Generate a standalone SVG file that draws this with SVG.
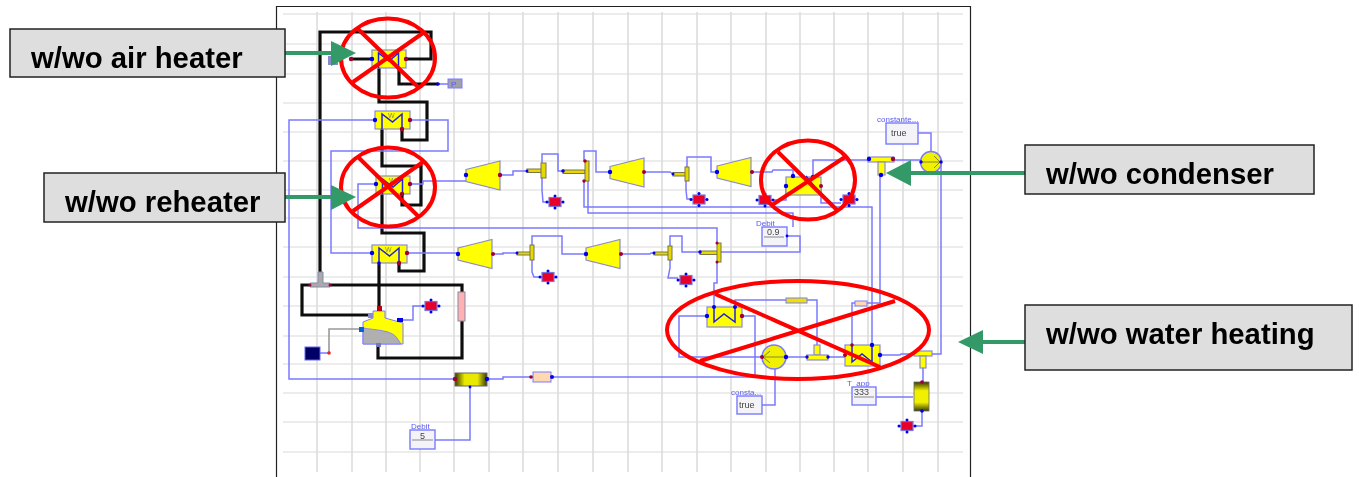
<svg xmlns="http://www.w3.org/2000/svg" width="1359" height="477" viewBox="0 0 1359 477">
<style>
.gh{stroke:#e6e6e6;stroke-width:1.6;fill:none}
.gv{stroke:#dcdcdc;stroke-width:1.6;fill:none}
.bl{stroke:#7a7aff;stroke-width:1.5;fill:none;stroke-linejoin:miter}
.bk{stroke:#111;stroke-width:3.2;fill:none;stroke-linejoin:miter}
.gy{stroke:#999;stroke-width:1.6;fill:none}
.y{fill:#ffff00;stroke:#8a8ad0;stroke-width:1.2}
.yd{fill:#e8d800;stroke:#77774a;stroke-width:1}
.w{stroke:#2222dd;stroke-width:1.5;fill:none}
.pb{fill:#0000ee}
.pr{fill:#a00030}
.act{fill:#e8002a;stroke:#7777dd;stroke-width:1.2}
.box{fill:#f4f4f8;stroke:#7a7aff;stroke-width:1.4}
.lbl{font:8px "Liberation Sans",Arial,sans-serif;fill:#5a5aee}
.val{font:9px "Liberation Sans",Arial,sans-serif;fill:#444}
.wt{font:7px "Liberation Sans",Arial,sans-serif;fill:#888860}
.cross{stroke:#ff0000;stroke-width:4;fill:none}
.arr{stroke:#339966;stroke-width:4;fill:none}
.arh{fill:#339966}
.tag{fill:#dedede;stroke:#222;stroke-width:1.5}
.tagt{font:bold 29.300px "Liberation Sans",Arial,sans-serif;fill:#000}
</style>
<defs>
<filter id="soft" x="0" y="0" width="100%" height="100%"><feGaussianBlur stdDeviation="0.5"/></filter>
<g id="a"><path class="bl" d="M-9 0H9M0-7V7"/><rect class="act" x="-6" y="-4.500" width="12" height="9"/><circle class="pb" cx="-8" cy="0" r="1.500"/><circle class="pb" cx="8" cy="0" r="1.500"/><circle class="pb" cx="0" cy="-6" r="1.500"/><circle class="pb" cx="0" cy="6" r="1.500"/></g>
<polygon id="t" class="y" points="0,-6 34,-14.500 34,14.500 0,6"/>
<path id="wv" class="w" d="M-10.500 9V-6L0 2 9.500-6V9"/>
<linearGradient id="gh"><stop offset="0" stop-color="#3a3a00"/><stop offset=".3" stop-color="#e8e800"/><stop offset=".7" stop-color="#e8e800"/><stop offset="1" stop-color="#3a3a00"/></linearGradient>
<linearGradient id="gv" x2="0" y2="1"><stop offset="0" stop-color="#3a3a00"/><stop offset=".3" stop-color="#f0f000"/><stop offset=".7" stop-color="#f0f000"/><stop offset="1" stop-color="#3a3a00"/></linearGradient>
</defs>
<rect width="1359" height="477" fill="#fff"/>
<g filter="url(#soft)">
<g id="grid">
<path class="gh" d="M283 14H963M283 44H963M283 74H963M283 103H963M283 132H963M283 161H963M283 190H963M283 218H963M283 247H963M283 277H963M283 306H963M283 336H963M283 364H963M283 393H963M283 422H963M283 452H963"/>
<path class="gv" d="M317 12V472M352 12V472M386 12V472M420 12V472M454 12V472M489 12V472M523 12V472M558 12V472M593 12V472M628 12V472M662 12V472M697 12V472M731 12V472M766 12V472M800 12V472M834 12V472M868 12V472M903 12V472M938 12V472"/>
</g>
<g id="connectors">
<path class="bk" d="M406 59H431V32H320V272"/>
<path class="bk" d="M351 59H372M399 68V84H438"/>
<path class="bk" d="M379 68V102H427V140H402V129"/>
<path class="bk" d="M382 129V166H421V205H402V194"/>
<path class="bk" d="M382 194V233H424V271H399V263"/>
<path class="bk" d="M379 263V308"/>
<path class="bk" d="M330 285H462V292M462 321V358H378V345"/>
<path class="bk" d="M310 285H302V315H370"/>
<path class="gy" d="M361 329H329V352"/>
<path class="bl" d="M438 84H448"/>
<path class="bl" d="M375 120H289V379H455"/>
<path class="bl" d="M410 120H448V151H331V253H372"/>
<path class="bl" d="M407 253H457"/>
<path class="bl" d="M410 184H423V181H466"/>
<path class="bl" d="M376 184H358V228H717V243"/>
<path class="bl" d="M500 175H513V171H527"/>
<path class="bl" d="M542 163V154H558V171H563"/>
<path class="bl" d="M542 178V190L543 202H547"/>
<path class="bl" d="M585 161H584V151H596V172H610"/>
<path class="bl" d="M584 181V207H872V345"/>
<path class="bl" d="M588 181V213H793V227"/>
<path class="bl" d="M787 236H800V252H720"/>
<path class="bl" d="M644 172H670L673 174"/>
<path class="bl" d="M687 167V157H711V172H717"/>
<path class="bl" d="M686 181V190L687 199H691"/>
<path class="bl" d="M752 172H772L773 170H793V177"/>
<path class="bl" d="M813 177V160H868"/>
<path class="bl" d="M821 186V203H841"/>
<path class="bl" d="M773 200H786V186"/>
<path class="bl" d="M893 160H920"/>
<path class="bl" d="M918 133H931V151"/>
<path class="bl" d="M941 162V354H932"/>
<path class="bl" d="M880 175V303H867"/>
<path class="bl" d="M855 303H852V345"/>
<path class="bl" d="M493 254H503V253H517"/>
<path class="bl" d="M532 245V236H562V254H586"/>
<path class="bl" d="M532 260V272L534 277H540"/>
<path class="bl" d="M621 254H650L651 253H654"/>
<path class="bl" d="M670 246V236H682V252H700"/>
<path class="bl" d="M670 260V268L668 278H678"/>
<path class="bl" d="M717 262V283H714V307"/>
<path class="bl" d="M707 316H679V357H762"/>
<path class="bl" d="M742 316H755V377H551"/>
<path class="bl" d="M735 307V300H786"/>
<path class="bl" d="M807 300H817V345"/>
<path class="bl" d="M786 357H807"/>
<path class="bl" d="M828 357H846"/>
<path class="bl" d="M762 405H775V369"/>
<path class="bl" d="M880 355H900L901 354H914"/>
<path class="bl" d="M876 397H913"/>
<path class="bl" d="M923 368V382M922 411V426H915"/>
<path class="bl" d="M487 379H503V377H533"/>
<path class="bl" d="M435 440H470V386"/>
<path class="bl" d="M400 320H413V306H423"/>
<path class="bl" d="M320 353H330"/>
</g>
<g id="air-heater"><rect class="y" x="372" y="50" width="34" height="18"/><use href="#wv" x="389" y="59"/><circle class="pb" cx="372" cy="59" r="2.200"/><circle class="pr" cx="406" cy="59" r="2.200"/><circle class="pr" cx="351" cy="59" r="2.200"/><rect x="328" y="56" width="10" height="9" fill="#8888cc"/></g>
<g id="sensor-p"><circle class="pb" cx="438" cy="84" r="1.800"/><rect x="448" y="79" width="14" height="9" fill="#a0a0a8" stroke="#7a7aff"/><text class="lbl" x="451" y="87">P</text></g>
<g id="heater-2"><rect class="y" x="375" y="111" width="35" height="18"/><text class="wt" x="388" y="118">W</text><use href="#wv" x="392.500" y="120"/><circle class="pb" cx="375" cy="120" r="2.200"/><circle class="pr" cx="410" cy="120" r="2.200"/><circle class="pr" cx="402" cy="129" r="2.200"/></g>
<g id="reheater"><rect class="y" x="376" y="176" width="34" height="18"/><text class="wt" x="389" y="183">W</text><use href="#wv" x="393" y="185"/><circle class="pb" cx="376" cy="184" r="2.200"/><circle class="pr" cx="410" cy="184" r="2.200"/><circle class="pr" cx="402" cy="194" r="2.200"/></g>
<g id="heater-4"><rect class="y" x="372" y="245" width="35" height="18"/><text class="wt" x="385" y="252">W</text><use href="#wv" x="389.500" y="254"/><circle class="pb" cx="372" cy="253" r="2.200"/><circle class="pr" cx="407" cy="253" r="2.200"/><circle class="pr" cx="399" cy="263" r="2.200"/><circle class="pb" cx="379" cy="263" r="1.800"/></g>
<g id="tee-gray"><path d="M318 272H323V283H330V287H310V283H318Z" fill="#aaa" stroke="#8888aa"/><circle class="pr" cx="310" cy="285" r="1.500"/><circle class="pr" cx="330" cy="285" r="1.500"/></g>
<g id="pink-pipe"><rect x="458" y="292" width="7" height="29" fill="#ffb0b0" stroke="#8888aa"/></g>
<g id="boiler">
<path d="M363 322L373 318V311H385V318L403 323V344H363Z" fill="#ffff00" stroke="#7a7aff"/>
<path d="M363 328C375 330 392 330 397 338L401 344H363Z" fill="#b0b0b0" stroke="#7a7aff" stroke-width=".8"/>
<rect x="377" y="306" width="5" height="5" fill="#c00010"/><rect x="368" y="313" width="5" height="5" fill="#8888cc"/><rect x="397" y="318" width="6" height="4" fill="#0000ee"/><rect x="359" y="327" width="5" height="5" fill="#0066cc"/><rect x="376" y="343" width="5" height="4" fill="#7777bb"/>
</g>
<g id="source"><rect x="305" y="347" width="15" height="13" fill="#000066" stroke="#6666ee"/><circle cx="329" cy="353" r="1.800" fill="#ee2222"/></g>
<use id="act-boiler" href="#a" x="431" y="306"/>
<use id="turbine-1" href="#t" x="466" y="175.500"/><circle class="pb" cx="466" cy="175" r="2.200"/><circle class="pr" cx="500" cy="175" r="2.200"/>
<g id="tee-1"><rect class="yd" x="527" y="169" width="15" height="3.500"/><rect class="yd" x="541" y="163" width="5" height="15"/><circle class="pb" cx="527" cy="171" r="1.500"/></g>
<use id="act-1" href="#a" x="555" y="202"/>
<g id="tee-2"><rect class="yd" x="563" y="170" width="22" height="3.500"/><rect class="yd" x="585" y="161" width="4" height="20"/><circle class="pb" cx="563" cy="171" r="1.800"/><circle class="pr" cx="585" cy="161" r="1.700"/><circle class="pr" cx="584" cy="181" r="1.700"/></g>
<use id="turbine-2" href="#t" x="610" y="172.500"/><circle class="pb" cx="610" cy="172" r="2.200"/><circle class="pr" cx="644" cy="172" r="2"/>
<g id="tee-3"><rect class="yd" x="673" y="172.500" width="13" height="3.500"/><rect class="yd" x="685" y="167" width="4" height="14"/><circle class="pb" cx="673" cy="174" r="1.500"/></g>
<use id="act-2" href="#a" x="699" y="199.500"/>
<use id="turbine-3" href="#t" x="717" y="172"/><circle class="pb" cx="717" cy="172" r="2.200"/><circle class="pr" cx="752" cy="172" r="2"/>
<g id="condenser"><rect class="y" x="786" y="177" width="35" height="18"/><path class="w" d="M806 176L814 186"/><circle class="pb" cx="793" cy="176" r="2.200"/><circle class="pb" cx="813" cy="177" r="2.200"/><circle class="pb" cx="786" cy="186" r="2.200"/><circle class="pr" cx="821" cy="186" r="2"/></g>
<use id="act-3" href="#a" x="765" y="200"/>
<use id="act-4" href="#a" x="849" y="199.500"/>
<g id="debit-09"><text class="lbl" x="756" y="226">Debit</text><rect class="box" x="762" y="227" width="25" height="19"/><text class="val" x="767" y="235">0.9</text><path d="M764 237H784" stroke="#888"/><circle class="pb" cx="787" cy="236" r="1.400"/></g>
<g id="tee-top"><rect class="y" x="868" y="157" width="26" height="5"/><rect class="y" x="878" y="162" width="7" height="13"/><circle class="pb" cx="869" cy="159" r="2.200"/><circle class="pr" cx="893" cy="159" r="2.200"/><circle class="pb" cx="881" cy="175" r="2.200"/></g>
<g id="pump-top"><circle cx="931" cy="162" r="10.500" fill="#f0f000" stroke="#7a7aff" stroke-width="1.500"/><path d="M920 162H940M934 156L940 162 934 168" stroke="#888830" fill="none"/><circle class="pb" cx="921" cy="162" r="1.700"/><circle class="pb" cx="941" cy="162" r="1.700"/></g>
<g id="const-top"><text class="lbl" x="877" y="122">constante...</text><rect class="box" x="886" y="123" width="32" height="21" fill="#eee"/><text class="val" x="891" y="136">true</text></g>
<use id="turbine-4" href="#t" x="458" y="254"/><circle class="pb" cx="458" cy="254" r="2.200"/><circle class="pr" cx="493" cy="254" r="2"/>
<g id="tee-4"><rect class="yd" x="517" y="252" width="14" height="3"/><rect class="yd" x="530" y="245" width="4" height="15"/><circle class="pb" cx="517" cy="253" r="1.500"/></g>
<use id="act-5" href="#a" x="548" y="277"/>
<use id="turbine-5" href="#t" x="586" y="254"/><circle class="pb" cx="586" cy="254" r="2.200"/><circle class="pr" cx="621" cy="254" r="2"/>
<g id="tee-5"><rect class="yd" x="654" y="252" width="15" height="3"/><rect class="yd" x="668" y="246" width="4" height="14"/><circle class="pb" cx="654" cy="253" r="1.500"/></g>
<use id="act-6" href="#a" x="686" y="280"/>
<g id="tee-6"><rect class="yd" x="700" y="251" width="18" height="3.500"/><rect class="yd" x="717" y="243" width="4" height="19"/><circle class="pb" cx="700" cy="252" r="1.700"/><circle class="pr" cx="717" cy="243" r="1.500"/><circle class="pr" cx="717" cy="262" r="1.500"/></g>
<g id="drum"><rect x="455" y="373" width="32" height="13" fill="url(#gh)" stroke="#666"/><circle class="pr" cx="455" cy="379" r="2.200"/><circle class="pb" cx="487" cy="379" r="2.200"/><circle class="pb" cx="470" cy="387" r="1.400"/></g>
<g id="beige"><rect x="533" y="372" width="18" height="10" fill="#ffd8b0" stroke="#7a7aff"/><circle class="pr" cx="531" cy="377" r="1.800"/><circle class="pb" cx="552" cy="377" r="2"/></g>
<g id="debit-5"><text class="lbl" x="411" y="429">Debit</text><rect class="box" x="410" y="430" width="25" height="19"/><text class="val" x="420" y="439">5</text><path d="M412 440H433" stroke="#888"/></g>
<g id="heater-w1"><rect class="y" x="707" y="307" width="35" height="20"/><path class="w" d="M714 307V322L724 314 735 322V307"/><circle class="pb" cx="714" cy="307" r="2"/><circle class="pb" cx="735" cy="307" r="2"/><circle class="pb" cx="707" cy="316" r="2.200"/><circle class="pr" cx="742" cy="316" r="2.200"/></g>
<g id="small-pipe"><rect x="786" y="298" width="21" height="5" fill="#f0e000" stroke="#7a7aff"/></g>
<g id="pink-small"><rect x="855" y="301" width="12" height="5" fill="#ffd8b0" stroke="#7a7aff"/></g>
<g id="pump-low"><circle cx="774" cy="357" r="12" fill="#f0f000" stroke="#7a7aff" stroke-width="1.500"/><path d="M763 357H784M770 351L763 357 770 363" stroke="#888830" fill="none"/><circle class="pr" cx="762" cy="357" r="2"/><circle class="pb" cx="786" cy="357" r="2.200"/></g>
<g id="tee-low"><rect class="y" x="814" y="345" width="6" height="10"/><rect class="y" x="807" y="355" width="21" height="5"/><circle class="pb" cx="807" cy="357" r="1.700"/><circle class="pb" cx="828" cy="357" r="1.700"/></g>
<g id="heater-w2"><rect class="y" x="845" y="345" width="35" height="21"/><path class="w" d="M852 345V362L862 354 872 362V345"/><circle class="pr" cx="845" cy="355" r="2"/><circle class="pb" cx="880" cy="355" r="2.200"/><circle class="pr" cx="852" cy="345" r="1.800"/><circle class="pb" cx="872" cy="345" r="2.200"/></g>
<g id="const-low"><text class="lbl" x="731" y="395">consta...</text><rect class="box" x="737" y="396" width="25" height="18" fill="#eee"/><text class="val" x="739" y="408">true</text></g>
<g id="t-app"><text class="lbl" x="847" y="386">T_app</text><rect class="box" x="852" y="387" width="24" height="18"/><text class="val" x="854" y="395">333</text><path d="M854 397H874" stroke="#888"/></g>
<g id="tee-right"><rect class="y" x="914" y="351" width="18" height="5"/><rect class="y" x="920" y="356" width="6" height="12"/></g>
<g id="cylinder"><rect x="914" y="382" width="15" height="29" fill="url(#gv)" stroke="#666" stroke-width=".8"/><circle class="pr" cx="922" cy="382" r="1.800"/><circle class="pb" cx="922" cy="411" r="1.800"/></g>
<use id="act-7" href="#a" x="907" y="426"/>
</g>
<g id="frame"><path d="M276.500 477V6.500H970.500V477" fill="none" stroke="#222" stroke-width="1.200"/></g>
<g id="crosses">
<ellipse class="cross" cx="388" cy="58" rx="47" ry="39.500"/><path class="cross" d="M358 29L418 87M423 33L353 82"/>
<ellipse class="cross" cx="388" cy="187" rx="47" ry="39.500"/><path class="cross" d="M358 157L418 216M423 162L353 211"/>
<ellipse class="cross" cx="808" cy="180" rx="47" ry="39.500"/><path class="cross" d="M778 152L838 211M845 157L772 205"/>
<ellipse class="cross" cx="798" cy="330" rx="131" ry="49"/><path class="cross" d="M715 294L880 367M895 301L700 361"/>
</g>
<g id="arrows">
<path class="arr" d="M285 53H335"/><polygon class="arh" points="331,41 356,53 331,66"/>
<path class="arr" d="M285 197H335"/><polygon class="arh" points="331,185 356,197 331,210"/>
<path class="arr" d="M907 173H1030"/><polygon class="arh" points="886,173 911,160 911,186"/>
<path class="arr" d="M980 342H1030"/><polygon class="arh" points="958,342 983,330 983,354"/>
</g>
<g id="tag-air"><rect class="tag" x="10" y="29" width="275" height="48"/><text class="tagt" x="31" y="68">w/wo air heater</text></g>
<g id="tag-reheater"><rect class="tag" x="44" y="173" width="241" height="49"/><text class="tagt" x="65" y="212">w/wo reheater</text></g>
<g id="tag-condenser"><rect class="tag" x="1025" y="145" width="289" height="49"/><text class="tagt" x="1046" y="184">w/wo condenser</text></g>
<g id="tag-water"><rect class="tag" x="1025" y="305" width="327" height="65"/><text class="tagt" x="1046" y="344">w/wo water heating</text></g>
</svg>
